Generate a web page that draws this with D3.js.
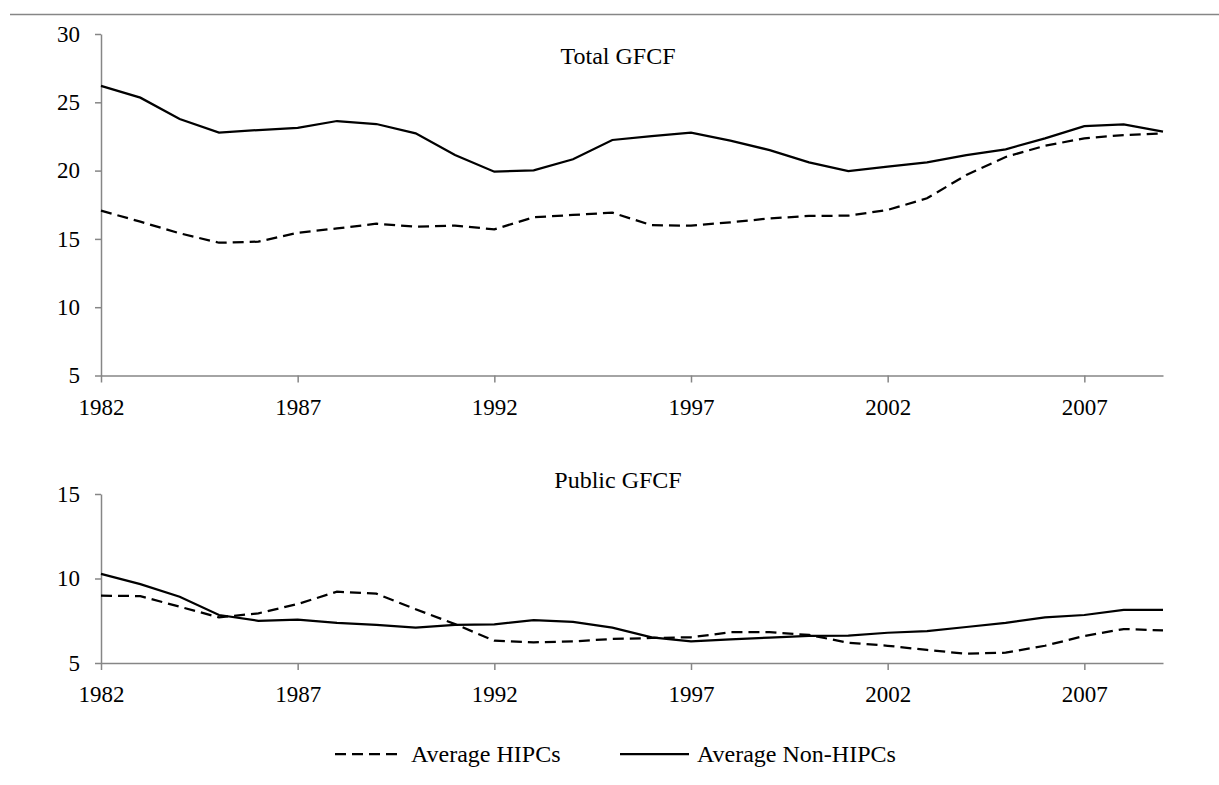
<!DOCTYPE html>
<html>
<head>
<meta charset="utf-8">
<script src="https://cdn.jsdelivr.net/npm/d3@7"></script>
<style>
  html, body { margin: 0; padding: 0; background: #fff; }
  svg { display: block; font-family: "Liberation Serif", "Times New Roman", serif; }
</style>
</head>
<body>
<svg id="chart" width="1219" height="785"></svg>
<script>
// ---- Data ----
const years = d3.range(1982, 2010);
const xTickYears = [1982, 1987, 1992, 1997, 2002, 2007];

const totalHIPC = [17.07, 16.26, 15.41, 14.72, 14.80, 15.45, 15.77, 16.11, 15.89, 15.97,
                   15.70, 16.58, 16.75, 16.92, 16.00, 15.97, 16.21, 16.50, 16.68, 16.70,
                   17.12, 17.97, 19.68, 21.00, 21.82, 22.36, 22.60, 22.73];
const totalNonHIPC = [26.20, 25.34, 23.78, 22.78, 22.97, 23.12, 23.63, 23.41, 22.73, 21.14,
                      19.92, 20.02, 20.83, 22.24, 22.53, 22.78, 22.19, 21.50, 20.60, 19.97,
                      20.29, 20.60, 21.14, 21.56, 22.36, 23.26, 23.39, 22.85];
const publicHIPC = [8.98, 8.96, 8.33, 7.70, 7.94, 8.49, 9.22, 9.10, 8.18, 7.30,
                    6.32, 6.22, 6.28, 6.42, 6.48, 6.52, 6.82, 6.82, 6.66, 6.20,
                    6.02, 5.77, 5.55, 5.61, 6.02, 6.60, 7.01, 6.93];
const publicNonHIPC = [10.27, 9.67, 8.92, 7.84, 7.50, 7.56, 7.37, 7.25, 7.09, 7.25,
                       7.29, 7.53, 7.43, 7.09, 6.52, 6.28, 6.40, 6.50, 6.60, 6.62,
                       6.79, 6.89, 7.13, 7.38, 7.70, 7.84, 8.14, 8.14];
const totalTicks = [5, 10, 15, 20, 25, 30];
const publicTicks = [5, 10, 15];
const seriesNames = ["Average HIPCs", "Average Non-HIPCs"];
const panelTitles = ["Total GFCF", "Public GFCF"];

// ---- Drawing ----
const svg = d3.select("#chart");
const axisColor = "#868686";
const lineColor = "#000";
const dash = "11,6";

// top rule
svg.append("line")
  .attr("x1", 10).attr("x2", 1219).attr("y1", 14.5).attr("y2", 14.5)
  .attr("stroke", axisColor).attr("stroke-width", 1.5);

const x = d3.scaleLinear().domain([1982, 2009]).range([101, 1163]);

function panel(cfg) {
  const y = d3.scaleLinear().domain(cfg.domain).range(cfg.range);
  const g = svg.append("g");

  const yAxis = d3.axisLeft(y).tickValues(cfg.ticks).tickSize(6).tickPadding(15).tickSizeOuter(0)
    .tickFormat(d3.format("d"));
  const ya = g.append("g").attr("transform", `translate(${x(1982)},0)`).call(yAxis);

  const xAxis = d3.axisBottom(x).tickValues(xTickYears).tickSize(7).tickPadding(16).tickSizeOuter(0)
    .tickFormat(d3.format("d"));
  const xa = g.append("g").attr("transform", `translate(0,${y(cfg.domain[0])})`).call(xAxis);

  [ya, xa].forEach(a => {
    a.select(".domain").attr("stroke", axisColor).attr("stroke-width", 1.5);
    a.selectAll(".tick line").attr("stroke", axisColor).attr("stroke-width", 1.5);
    a.selectAll(".tick text").attr("fill", "#000").style("font-size", "23px")
      .style("font-family", '"Liberation Serif", "Times New Roman", serif');
  });

  const line = d3.line().x((d, i) => x(years[i])).y(d => y(d));

  g.append("path").datum(cfg.hipc)
    .attr("d", line).attr("fill", "none").attr("stroke", lineColor)
    .attr("stroke-width", 2.25).attr("stroke-dasharray", dash);
  g.append("path").datum(cfg.nonhipc)
    .attr("d", line).attr("fill", "none").attr("stroke", lineColor)
    .attr("stroke-width", 2.25);

  g.append("text").attr("x", 618).attr("y", cfg.titleY)
    .attr("text-anchor", "middle").style("font-size", "24px").attr("fill", "#000")
    .text(cfg.title);
}

panel({ domain: [5, 30], range: [375.5, 34], ticks: totalTicks,
        hipc: totalHIPC, nonhipc: totalNonHIPC, title: panelTitles[0], titleY: 64 });
panel({ domain: [5, 15], range: [663, 494], ticks: publicTicks,
        hipc: publicHIPC, nonhipc: publicNonHIPC, title: panelTitles[1], titleY: 488 });

// legend
const leg = svg.append("g");
leg.append("line").attr("x1", 335).attr("x2", 399).attr("y1", 754).attr("y2", 754)
  .attr("stroke", lineColor).attr("stroke-width", 2.25).attr("stroke-dasharray", dash);
leg.append("text").attr("x", 411).attr("y", 762).style("font-size", "24px").text(seriesNames[0]);
leg.append("line").attr("x1", 620).attr("x2", 689).attr("y1", 754).attr("y2", 754)
  .attr("stroke", lineColor).attr("stroke-width", 2.25);
leg.append("text").attr("x", 697).attr("y", 762).style("font-size", "24px").text(seriesNames[1]);
</script>
</body>
</html>
